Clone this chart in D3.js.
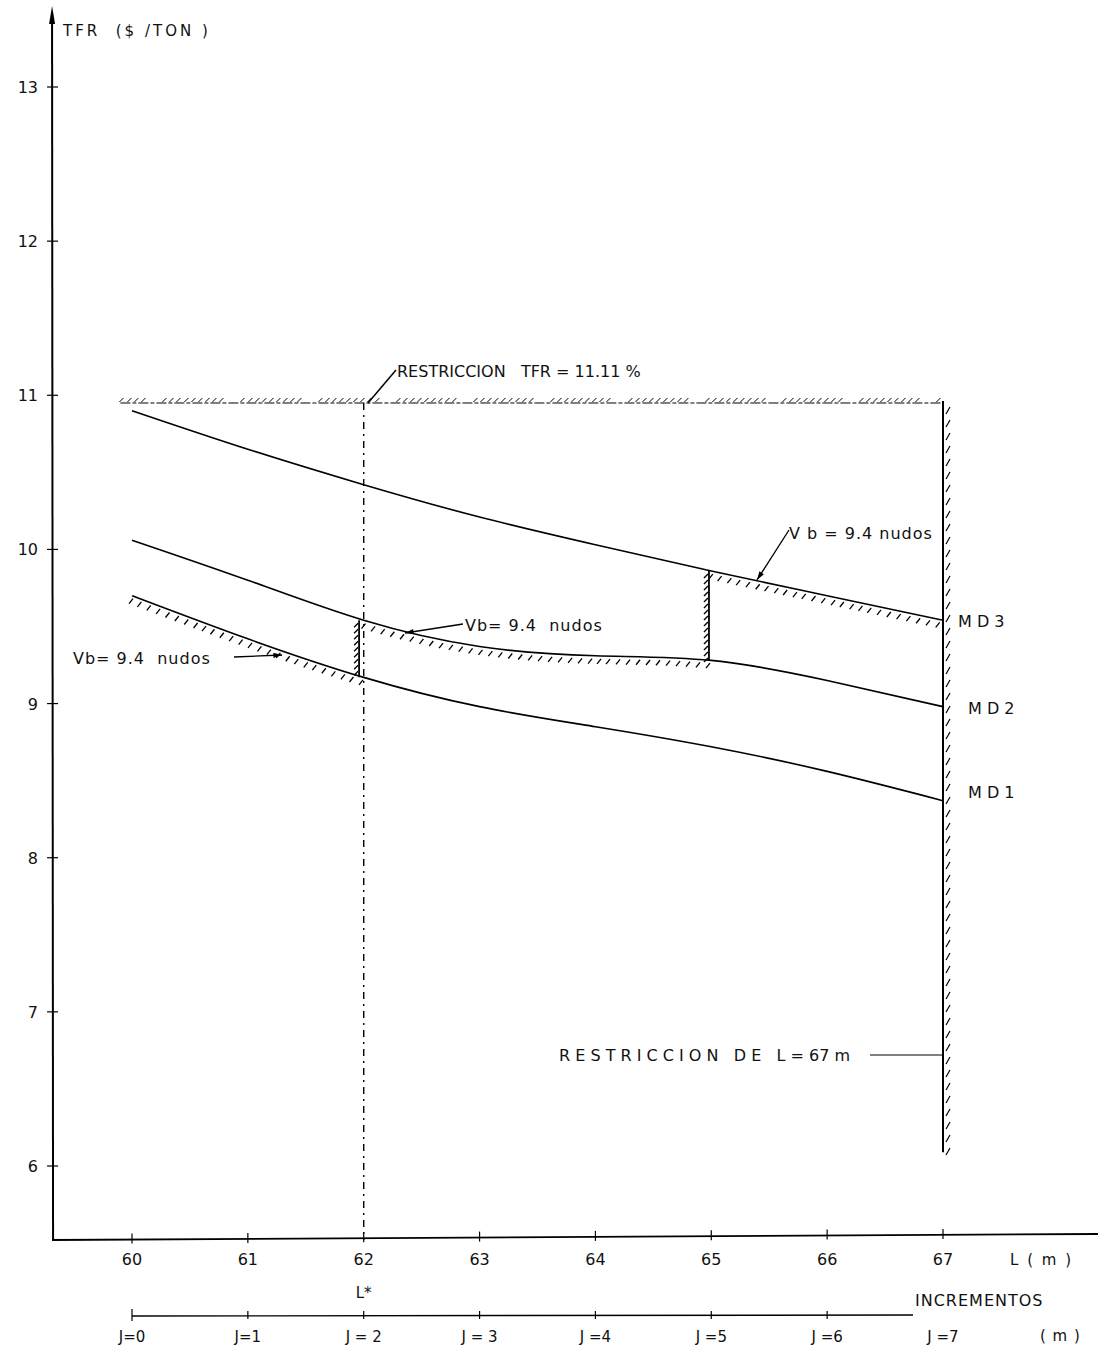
<!DOCTYPE html>
<html>
<head>
<meta charset="utf-8">
<script src="https://cdn.jsdelivr.net/npm/d3@7"></script>
<style>
  body { margin: 0; background: #fff; }
  svg text { font-family: "DejaVu Sans", sans-serif; fill: #111; white-space: pre; }
</style>
</head>
<body>
<div id="chart"></div>
<script>
// datos
const lengths = [60, 61, 62, 63, 64, 65, 66, 67];
const md3 = [10.90, 10.65, 10.42, 10.21, 10.03, 9.86, 9.70, 9.54];
const md2 = [10.06, 9.80, 9.54, 9.37, 9.31, 9.28, 9.15, 8.98];
const md1 = [9.70, 9.42, 9.17, 8.98, 8.85, 8.72, 8.56, 8.37];
const yTicks = [6, 7, 8, 9, 10, 11, 12, 13];
const xTicks = [60, 61, 62, 63, 64, 65, 66, 67];
const increments = ["J=0", "J=1", "J = 2", "J = 3", "J =4", "J =5", "J =6", "J =7"];
const tfrLimit = 10.95;      // restricción TFR
const lengthLimit = 67;      // restricción de L
const lengthLimitLow = 6.09;
const lStar = 62;
const switchPoints = [62, 65]; // cambios de velocidad Vb = 9.4 nudos

const W = 1098, H = 1346;
const svg = d3.select("#chart").append("svg").attr("width", W).attr("height", H);

const x = d3.scaleLinear().domain([60, 67]).range([132, 943]);
const y = d3.scaleLinear().domain([6, 13]).range([1166, 87]);
const x0 = x(59.31), yBase = 1240;

// ejes
svg.append("line").attr("x1", x0).attr("y1", 12).attr("x2", x0 + 1).attr("y2", yBase)
  .attr("stroke", "#000").attr("stroke-width", 2);
svg.append("path").attr("d", `M${x0 - 3},24 L${x0},6 L${x0 + 3},24 Z`).attr("fill", "#000");
svg.append("line").attr("x1", x0).attr("y1", yBase).attr("x2", W).attr("y2", yBase - 6)
  .attr("stroke", "#000").attr("stroke-width", 1.8);

const yAxisG = svg.append("g");
yTicks.forEach(t => {
  yAxisG.append("line").attr("x1", x0 - 5).attr("x2", x0 + 6).attr("y1", y(t)).attr("y2", y(t))
    .attr("stroke", "#000").attr("stroke-width", 1.2);
  yAxisG.append("text").attr("x", x0 - 14).attr("y", y(t) + 6).attr("text-anchor", "end")
    .attr("font-size", 16).text(t);
});

const tilt = d => yBase - 6 * (x(d) - x0) / (W - x0);
xTicks.forEach(t => {
  svg.append("line").attr("x1", x(t)).attr("x2", x(t)).attr("y1", tilt(t) - 6).attr("y2", tilt(t) + 4)
    .attr("stroke", "#000").attr("stroke-width", 1.2);
  svg.append("text").attr("x", x(t)).attr("y", 1265).attr("text-anchor", "middle")
    .attr("font-size", 16).text(t);
});
svg.append("text").attr("x", 1010).attr("y", 1265).attr("font-size", 15)
  .attr("letter-spacing", 2).text("L ( m )");

svg.append("text").attr("x", 63).attr("y", 36).attr("font-size", 15)
  .attr("letter-spacing", 3).text("TFR  ($ /TON )");

// eje de incrementos
const yInc = 1316;
svg.append("line").attr("x1", x(60)).attr("x2", x(67) - 30).attr("y1", yInc).attr("y2", yInc - 1)
  .attr("stroke", "#000").attr("stroke-width", 1.4);
increments.forEach((lab, i) => {
  const px = x(lengths[i]);
  if (i < 7) {
    svg.append("line").attr("x1", px).attr("x2", px).attr("y1", yInc - (i === 0 ? 7 : 5)).attr("y2", yInc + (i === 0 ? 5 : 3))
      .attr("stroke", "#000").attr("stroke-width", 1.2);
  }
  svg.append("text").attr("x", px).attr("y", 1342).attr("text-anchor", "middle")
    .attr("font-size", 15).text(lab);
});
svg.append("text").attr("x", 1040).attr("y", 1341).attr("font-size", 15)
  .attr("letter-spacing", 1).text("( m )");
svg.append("text").attr("x", 915).attr("y", 1306).attr("font-size", 16)
  .attr("letter-spacing", 1).text("INCREMENTOS");
svg.append("text").attr("x", x(lStar) - 8).attr("y", 1298).attr("font-size", 15).text("L*");

// línea L* (trazo y punto)
svg.append("line").attr("x1", x(lStar)).attr("x2", x(lStar)).attr("y1", y(tfrLimit)).attr("y2", yBase)
  .attr("stroke", "#000").attr("stroke-width", 1.4).attr("stroke-dasharray", "7,5,2,5");

// curvas
const line = d3.line().x((d, i) => x(lengths[i])).y(d => y(d)).curve(d3.curveNatural);
const curves = [md1, md2, md3].map(s =>
  svg.append("path").datum(s).attr("d", line).attr("fill", "none")
    .attr("stroke", "#000").attr("stroke-width", 1.6).node());

// rayado a lo largo de un trayecto
function hatchAlong(node, from, to, step, d1, d2, sw, skip) {
  const total = node.getTotalLength();
  const g = svg.append("g").attr("stroke", "#000").attr("stroke-width", sw || 1.3);
  let last = null, k = 0;
  for (let l = 0; l <= total; l += 1) {
    const p = node.getPointAtLength(l);
    if (p.x < x(from) || p.x > x(to)) continue;
    if (last && Math.hypot(p.x - last.x, p.y - last.y) < step) continue;
    last = p; k++;
    if (skip && skip(k)) continue;
    g.append("line").attr("x1", p.x + d1[0]).attr("y1", p.y + d1[1])
      .attr("x2", p.x + d2[0]).attr("y2", p.y + d2[1]);
  }
}
hatchAlong(curves[0], 60, switchPoints[0], 9, [1, 3], [-3, 8]);
hatchAlong(curves[1], switchPoints[0], switchPoints[1], 9, [1, 3], [-3, 8]);
hatchAlong(curves[2], switchPoints[1], lengthLimit, 9, [1, 3], [-3, 8]);

// tramos verticales entre curvas
const vert = (lx, lo, hi) => svg.append("line").attr("x1", x(lx)).attr("x2", x(lx)).attr("y1", y(lo)).attr("y2", y(hi))
  .attr("stroke", "#000").attr("stroke-width", 1.8).node();
const v1 = vert(61.96, md1[2], md2[2]);
const v2 = vert(64.98, md2[5], md3[5]);
[[v1, 61.96], [v2, 64.98]].forEach(([n, lx]) => {
  const g = svg.append("g").attr("stroke", "#000").attr("stroke-width", 1.3);
  const y1 = +n.getAttribute("y1"), y2 = +n.getAttribute("y2");
  for (let yy = Math.min(y1, y2) + 4; yy < Math.max(y1, y2); yy += 6) {
    g.append("line").attr("x1", x(lx) - 5).attr("y1", yy + 3).attr("x2", x(lx) - 1).attr("y2", yy - 1);
  }
});

// restricción TFR
const restr = svg.append("line").attr("x1", x(59.9)).attr("x2", x(lengthLimit)).attr("y1", y(tfrLimit)).attr("y2", y(tfrLimit))
  .attr("stroke", "#000").attr("stroke-width", 1).attr("stroke-dasharray", "10,2,4,2").node();
hatchAlong(restr, 59.9, lengthLimit, 7, [-2, -1], [2, -5], 1, k => k % 11 === 5 || k % 11 === 6);

// restricción de L
svg.append("line").attr("x1", x(lengthLimit)).attr("x2", x(lengthLimit))
  .attr("y1", y(tfrLimit) - 2).attr("y2", y(lengthLimitLow))
  .attr("stroke", "#000").attr("stroke-width", 2);
{
  const g = svg.append("g").attr("stroke", "#000").attr("stroke-width", 1.2);
  for (let yy = y(tfrLimit) + 6; yy < y(lengthLimitLow); yy += 13) {
    g.append("line").attr("x1", x(lengthLimit) + 3).attr("y1", yy + 5).attr("x2", x(lengthLimit) + 7).attr("y2", yy - 2);
  }
}

// etiquetas
const lab = (tx, ty, t, ls) => svg.append("text").attr("x", tx).attr("y", ty).attr("font-size", 16)
  .attr("letter-spacing", ls === undefined ? 1 : ls).text(t);
lab(x(lengthLimit) + 15, y(md3[7]) + 7, "M D 3", 0);
lab(x(lengthLimit) + 25, y(md2[7]) + 7, "M D 2", 0);
lab(x(lengthLimit) + 25, y(md1[7]) - 3, "M D 1", 0);

lab(397, 377, "RESTRICCION   TFR = 11.11 %", 0);
svg.append("line").attr("x1", 396).attr("y1", 370).attr("x2", 368).attr("y2", y(tfrLimit))
  .attr("stroke", "#000").attr("stroke-width", 1.5);

lab(559, 1061, "R E S T R I C C I O N   D E   L = 67 m", 0);
svg.append("line").attr("x1", 870).attr("x2", x(lengthLimit)).attr("y1", 1055).attr("y2", 1055)
  .attr("stroke", "#000").attr("stroke-width", 1.2);

const arrowTo = (x1, y1, x2, y2) => {
  svg.append("line").attr("x1", x1).attr("y1", y1).attr("x2", x2).attr("y2", y2)
    .attr("stroke", "#000").attr("stroke-width", 1.3);
  const a = Math.atan2(y2 - y1, x2 - x1), L = 9, s = 0.3;
  svg.append("path").attr("d", `M${x2},${y2} L${x2 - L * Math.cos(a - s)},${y2 - L * Math.sin(a - s)} L${x2 - L * Math.cos(a + s)},${y2 - L * Math.sin(a + s)} Z`)
    .attr("fill", "#000");
};
lab(73, 664, "Vb= 9.4  nudos");
arrowTo(234, 657, 282, 655);
lab(465, 631, "Vb= 9.4  nudos");
arrowTo(463, 624, 405, 633);
lab(789, 539, "V b = 9.4 nudos");
arrowTo(789, 530, 757, 580);
</script>
</body>
</html>
